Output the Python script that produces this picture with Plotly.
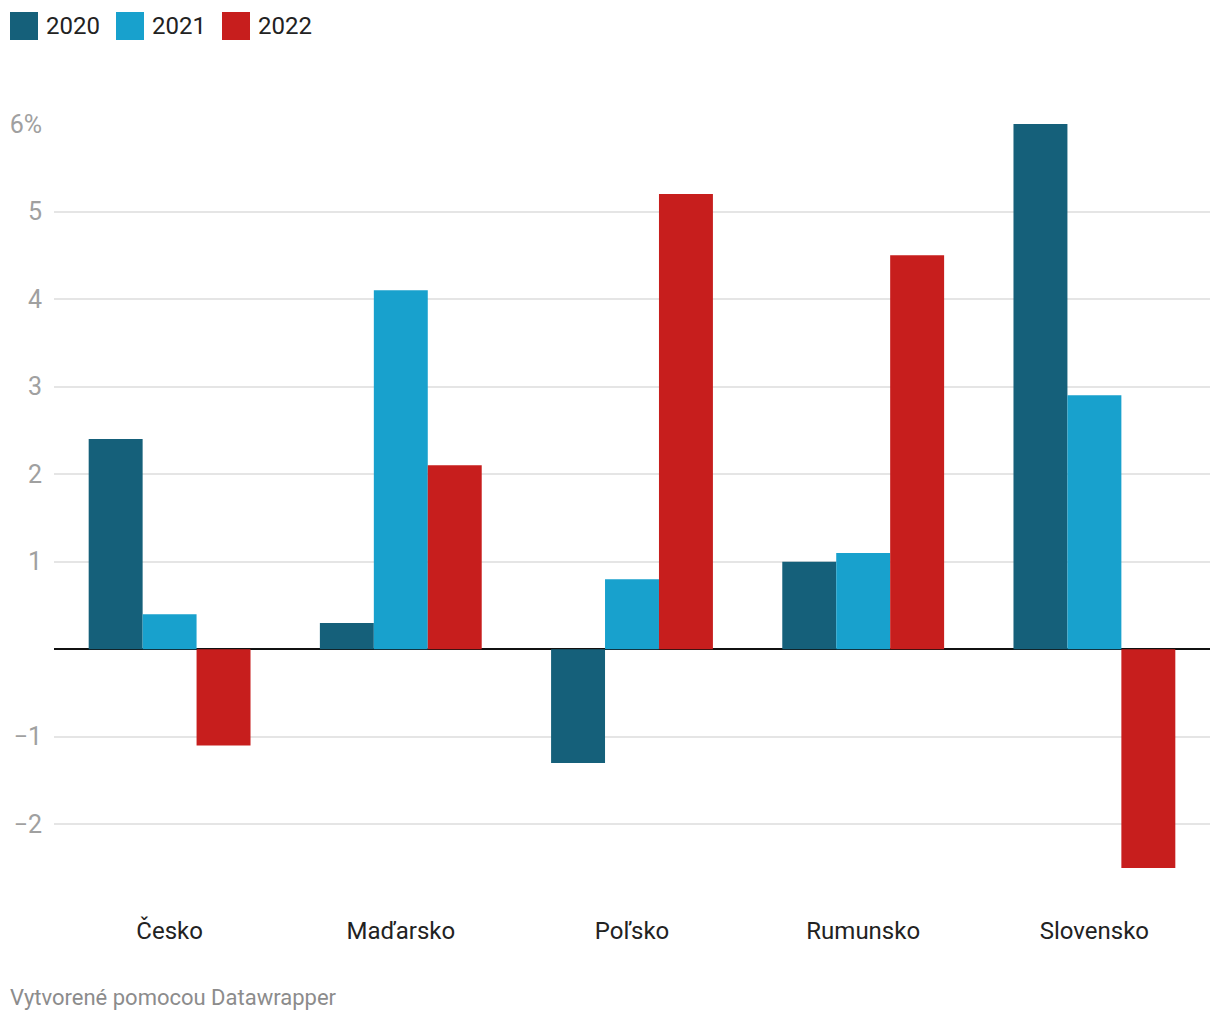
import plotly.graph_objects as go

categories = ["Česko", "Maďarsko", "Poľsko", "Rumunsko", "Slovensko"]
years = ["2020", "2021", "2022"]
values_2020 = [2.4, 0.3, -1.3, 1.0, 6.0]
values_2021 = [0.4, 4.1, 0.8, 1.1, 2.9]
values_2022 = [-1.1, 2.1, 5.2, 4.5, -2.5]
colors = ["#15607a", "#18a1cd", "#c71e1d"]
tick_vals = [-2, -1, 1, 2, 3, 4, 5, 6]
tick_text = ["−2", "−1", "1", "2", "3", "4", "5", "6%"]

OFF = 8  # page body margin
W, H = 1220 - OFF, 1020 - OFF
ml, mr, mt = 54 - OFF, 10, 124 - OFF
mb = H - (868 - OFF)

fig = go.Figure()
for yr, vals, col in zip(years, [values_2020, values_2021, values_2022], colors):
    fig.add_trace(go.Bar(x=categories, y=vals, name=yr, marker=dict(color=col, line=dict(width=0)),
                         showlegend=False))

pw = W - ml - mr
ph = H - mt - mb
def px_x(x):
    return (x - OFF - ml) / pw
def px_y(y):
    return (H - mb - (y - OFF)) / ph

lx = [10, 116, 222]
shapes = []
anns = []
for i, (yr, col) in enumerate(zip(years, colors)):
    shapes.append(dict(type="rect", xref="paper", yref="paper",
                       x0=px_x(lx[i]), x1=px_x(lx[i] + 28),
                       y0=px_y(40), y1=px_y(12), fillcolor=col, line=dict(width=0)))
    anns.append(dict(xref="paper", yref="paper", x=px_x(lx[i] + 34), y=px_y(26),
                     text=yr, showarrow=False, xanchor="left", yanchor="middle",
                     font=dict(size=24, color="#222222")))
anns.append(dict(xref="paper", yref="paper", x=px_x(8), y=px_y(997),
                 text="Vytvorené pomocou Datawrapper", showarrow=False,
                 xanchor="left", yanchor="middle",
                 font=dict(size=22, color="#8c8c8c")))

fig.update_layout(
    width=W, height=H,
    margin=dict(l=ml, r=mr, t=mt, b=mb, pad=0),
    paper_bgcolor="white", plot_bgcolor="white",
    barmode="group", bargap=0.3, bargroupgap=0,
    font=dict(family="Roboto", size=20, color="#333333"),
    xaxis=dict(showgrid=False, showline=False, ticks="", ticklabelstandoff=46,
               automargin=False, tickfont=dict(size=24, color="#222222")),
    yaxis=dict(range=[-2.5, 6.0], tickvals=tick_vals, ticktext=tick_text,
               showgrid=True, gridcolor="#e5e5e5", gridwidth=1.5,
               zeroline=True, zerolinecolor="#111111", zerolinewidth=2,
               ticks="", ticklabelstandoff=11, automargin=False,
               tickfont=dict(size=25, color="#a0a0a0")),
    shapes=shapes,
    annotations=anns,
)

fig.write_html("out.html")
